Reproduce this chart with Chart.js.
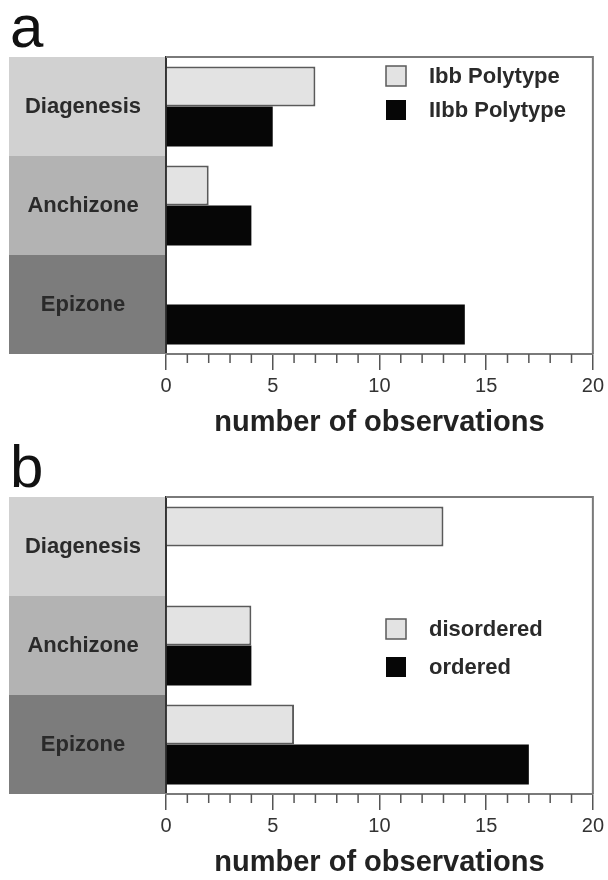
<!DOCTYPE html>
<html>
<head>
<meta charset="utf-8">
<title>Observations by metamorphic zone</title>
<script src="https://cdn.jsdelivr.net/npm/chart.js@4.4.1/dist/chart.umd.min.js"></script>
<style>
  body { margin: 0; background: #fff; width: 608px; height: 880px; overflow: hidden; }
  .panel { position: relative; width: 608px; height: 440px; }
  .panel canvas { position: absolute; left: 0; top: 0; }
  .tag { position: absolute; left: 10px; top: -3px; z-index: 2; font: 60px "Liberation Sans", Arial, sans-serif; line-height: 1; color: #111; }
</style>
</head>
<body>

<div class="panel">
  <canvas id="chartA" width="608" height="440"></canvas>
  <div class="tag">a</div>
</div>
<div class="panel">
  <canvas id="chartB" width="608" height="440"></canvas>
  <div class="tag">b</div>
</div>

<script>
// zones down the left side
const zones = ['Diagenesis', 'Anchizone', 'Epizone']
const zoneFills = ['#d1d1d1', '#b3b3b3', '#7c7c7c']

// x axis
const axisMin = 0
const axisMax = 20
const axisStep = 5
const axisTitle = 'number of observations'

// panel a
const polytypeNames = ['Ibb Polytype', 'IIbb Polytype']
const ibbCounts = [7, 2, 0]
const iibbCounts = [5, 4, 14]

// panel b
const orderNames = ['disordered', 'ordered']
const disorderedCounts = [13, 4, 6]
const orderedCounts = [0, 4, 17]

const FONT = '"Liberation Sans", Arial, sans-serif'
const light = { backgroundColor: '#e3e3e3', borderColor: '#5a5a5a', borderWidth: 2 }
const dark = { backgroundColor: '#060606', borderColor: '#000', borderWidth: 0 }

// zone bands + labels behind everything, frame, minor ticks and legend on top
const panelDecor = {
    id: 'panelDecor',
    beforeDraw(chart) {
        const { ctx, chartArea: area, scales: { y } } = chart
        const half = (y.getPixelForValue(1) - y.getPixelForValue(0)) / 2
        ctx.save()
        chart.data.labels.forEach((name, i) => {
            const c = y.getPixelForValue(i)
            ctx.fillStyle = zoneFills[i]
            ctx.fillRect(9, c - half, area.left - 9, half * 2)
        })
        ctx.fillStyle = '#2a2a2a'
        ctx.font = 'bold 22px ' + FONT
        ctx.textAlign = 'center'
        ctx.textBaseline = 'middle'
        chart.data.labels.forEach((name, i) => {
            ctx.fillText(name, 83, y.getPixelForValue(i))
        })
        ctx.restore()
    },
    afterDraw(chart, args, opts) {
        const { ctx, chartArea: area, scales: { x } } = chart
        ctx.save()

        // top and right edges of the plot box
        ctx.strokeStyle = '#7a7a7a'
        ctx.lineWidth = 2
        ctx.beginPath()
        ctx.moveTo(area.left, area.top)
        ctx.lineTo(area.right, area.top)
        ctx.lineTo(area.right, area.bottom)
        ctx.stroke()

        // minor ticks every 1
        ctx.strokeStyle = '#555'
        ctx.lineWidth = 1.5
        for (let v = axisMin; v <= axisMax; v++) {
            if (v % axisStep === 0) continue
            const px = x.getPixelForValue(v)
            ctx.beginPath()
            ctx.moveTo(px, area.bottom)
            ctx.lineTo(px, area.bottom + 9)
            ctx.stroke()
        }

        // legend
        ctx.font = 'bold 22px ' + FONT
        ctx.textAlign = 'left'
        ctx.textBaseline = 'middle'
        chart.data.datasets.forEach((ds, i) => {
            const top = opts.rows[i]
            ctx.fillStyle = ds.backgroundColor
            ctx.fillRect(opts.x, top, opts.size, opts.size)
            if (ds.borderWidth) {
                ctx.strokeStyle = ds.borderColor
                ctx.lineWidth = 1.5
                ctx.strokeRect(opts.x, top, opts.size, opts.size)
            }
            ctx.fillStyle = '#2a2a2a'
            ctx.fillText(ds.label, opts.textX, top + opts.size / 2 + 1)
        })
        ctx.restore()
    }
}

function makeChart(id, names, first, second, legendRows) {
    return new Chart(document.getElementById(id), {
        type: 'bar',
        data: {
            labels: zones,
            datasets: [
                { label: names[0], data: first, ...light },
                { label: names[1], data: second, ...dark }
            ]
        },
        options: {
            indexAxis: 'y',
            responsive: false,
            animation: false,
            devicePixelRatio: 1,
            categoryPercentage: 0.81,
            barPercentage: 1,
            layout: { padding: { left: 166, right: 13, top: 57, bottom: 0 } },
            scales: {
                y: {
                    grid: { display: false },
                    ticks: { display: false },
                    border: { color: '#333', width: 2 },
                    afterFit: s => { s.width = 0 }
                },
                x: {
                    min: axisMin,
                    max: axisMax,
                    ticks: {
                        stepSize: axisStep,
                        color: '#333',
                        padding: 4,
                        font: { family: FONT, size: 20 }
                    },
                    grid: { drawOnChartArea: false, tickLength: 16, color: '#555', lineWidth: 1.5 },
                    border: { color: '#7a7a7a', width: 2 },
                    title: {
                        display: true,
                        text: axisTitle,
                        color: '#222',
                        font: { family: FONT, size: 29, weight: 'bold' },
                        padding: { top: 0, bottom: 0 }
                    },
                    afterFit: s => { s.height = 86 }
                }
            },
            plugins: {
                legend: { display: false },
                tooltip: { enabled: false },
                panelDecor: { x: 386, size: 20, textX: 429, rows: legendRows }
            }
        },
        plugins: [panelDecor]
    })
}

makeChart('chartA', polytypeNames, ibbCounts, iibbCounts, [66, 100])
makeChart('chartB', orderNames, disorderedCounts, orderedCounts, [179, 217])
</script>
</body>
</html>
